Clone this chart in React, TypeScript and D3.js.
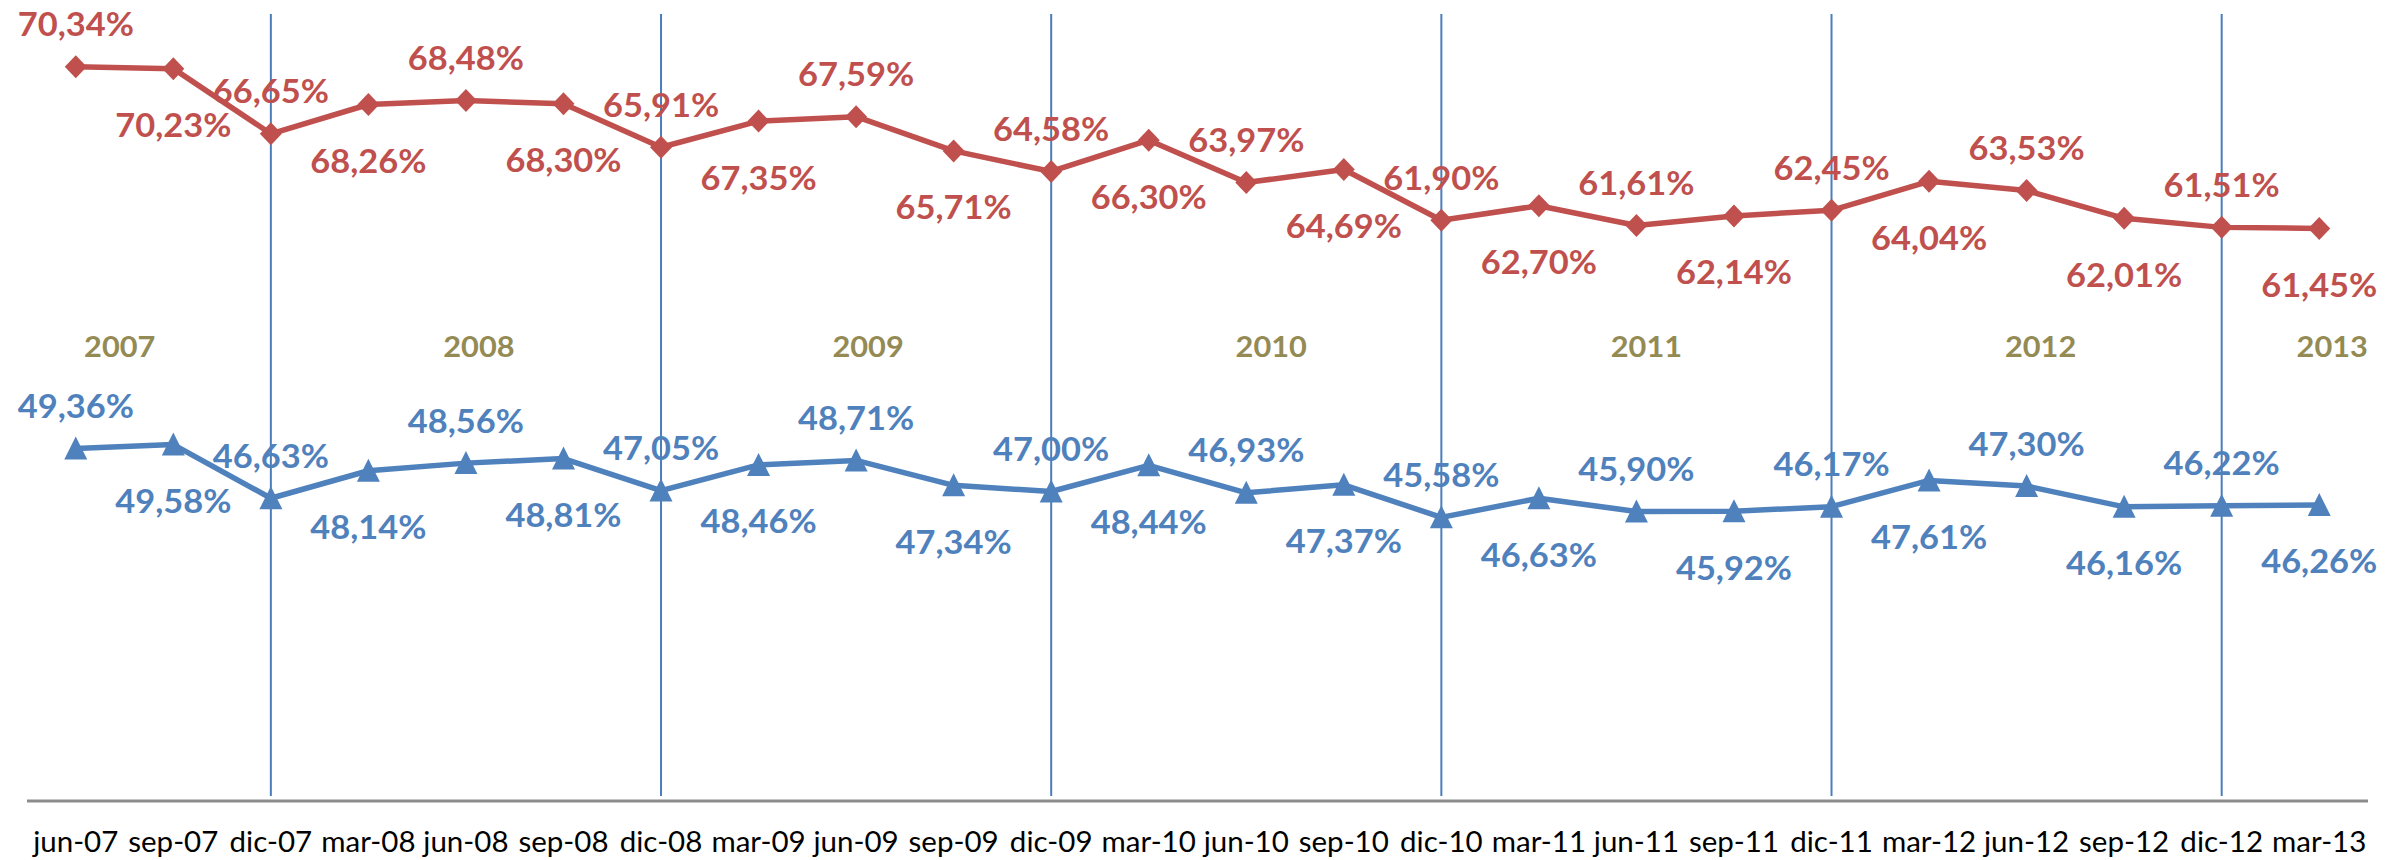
import React from "react";
import * as d3 from "d3";

// quarterly categories
const categories = [
  "jun-07", "sep-07", "dic-07", "mar-08", "jun-08", "sep-08", "dic-08", "mar-09",
  "jun-09", "sep-09", "dic-09", "mar-10", "jun-10", "sep-10", "dic-10", "mar-11",
  "jun-11", "sep-11", "dic-11", "mar-12", "jun-12", "sep-12", "dic-12", "mar-13"
];

// red series (diamonds)
const redValues = [
  70.34, 70.23, 66.65, 68.26, 68.48, 68.3, 65.91, 67.35,
  67.59, 65.71, 64.58, 66.3, 63.97, 64.69, 61.9, 62.7,
  61.61, 62.14, 62.45, 64.04, 63.53, 62.01, 61.51, 61.45
];

// blue series (triangles)
const blueValues = [
  49.36, 49.58, 46.63, 48.14, 48.56, 48.81, 47.05, 48.46,
  48.71, 47.34, 47.0, 48.44, 46.93, 47.37, 45.58, 46.63,
  45.9, 45.92, 46.17, 47.61, 47.3, 46.16, 46.22, 46.26
];

const years = ["2007", "2008", "2009", "2010", "2011", "2012", "2013"];
const yearAnchors = ["jun-07", "jun-08", "jun-09", "jun-10", "jun-11", "jun-12", "mar-13"];
const yearDividers = ["dic-07", "dic-08", "dic-09", "dic-10", "dic-11", "dic-12"];

// layout
const width = 2402;
const height = 860;
const baseY = 801;
const RED = "#C0504D";
const BLUE = "#4F81BD";
const OLIVE = "#948A54";
const yearNudge = [44, 13, 12, 25, 10, 14, 13];
const labelStretch = 1.06;
const font = "Lato, 'Open Sans', sans-serif";

const fmt = (v: number) => v.toFixed(2).replace(".", ",") + "%";

export default function App() {
  const x = d3.scalePoint<string>().domain(categories).range([27, 2368]).padding(0.5);
  const y = d3.scaleLinear().domain([30, 74]).range([baseY, 0]);

  const line = d3
    .line<number>()
    .x((d, i) => x(categories[i]) as number)
    .y(d => y(d));

  const diamond = "M0,-11.5L11,0L0,11.5L-11,0Z";
  const triangle = "M0,-12L11.5,11L-11.5,11Z";

  const labels = (values: number[], color: string) =>
    values.map((v, i) => {
      const px = x(categories[i]) as number;
      const py = y(v) + (i % 2 === 0 ? -30.5 : 68.5);
      return (
        <text
          key={i}
          transform={`translate(${px},${py}) scale(${labelStretch},1)`}
          textAnchor="middle"
          fill={color}
          fontSize={32.5}
          fontWeight="bold"
        >
          {fmt(v)}
        </text>
      );
    });

  return (
    <div>
      <style>{`body{margin:0}`}</style>
      <svg width={width} height={height} style={{ display: "block", fontFamily: font }}>
        <rect width={width} height={height} fill="#fff" />

        {yearDividers.map(c => (
          <line
            key={c}
            x1={x(c)}
            x2={x(c)}
            y1={14}
            y2={796}
            stroke="#4A7EBB"
            strokeWidth={2}
          />
        ))}

        <line x1={27} x2={2368} y1={baseY} y2={baseY} stroke="#8C8C8C" strokeWidth={3} />

        {categories.map(c => (
          <text key={c} x={x(c)} y={852} textAnchor="middle" fontSize={29.5} fill="#000">
            {c}
          </text>
        ))}

        {years.map((yr, i) => (
          <text
            key={yr}
            transform={`translate(${(x(yearAnchors[i]) as number) + yearNudge[i]},357) scale(${labelStretch},1)`}
            textAnchor="middle"
            fontSize={29}
            fontWeight="bold"
            fill={OLIVE}
          >
            {yr}
          </text>
        ))}

        <path d={line(redValues) as string} fill="none" stroke={RED} strokeWidth={5.5} strokeLinejoin="round" />
        {redValues.map((v, i) => (
          <path key={i} d={diamond} transform={`translate(${x(categories[i])},${y(v)})`} fill={RED} />
        ))}

        <path d={line(blueValues) as string} fill="none" stroke={BLUE} strokeWidth={5.5} strokeLinejoin="round" />
        {blueValues.map((v, i) => (
          <path key={i} d={triangle} transform={`translate(${x(categories[i])},${y(v)})`} fill={BLUE} />
        ))}

        {labels(redValues, RED)}
        {labels(blueValues, BLUE)}
      </svg>
    </div>
  );
}
